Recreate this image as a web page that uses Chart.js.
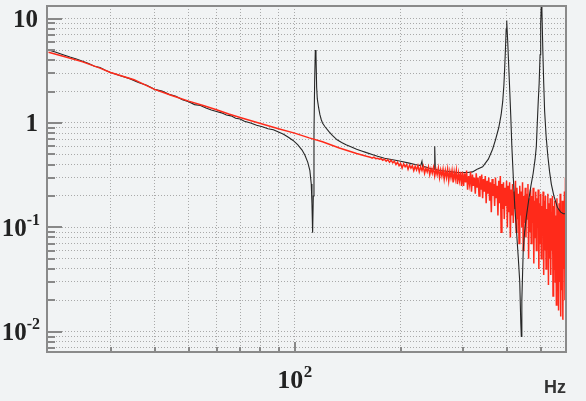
<!DOCTYPE html>
<html>
<head>
<meta charset="utf-8">
<script src="https://cdn.jsdelivr.net/npm/chart.js@4/dist/chart.umd.min.js"></script>
<style>
  html, body { margin: 0; padding: 0; background: #f1f3f4; }
  canvas { display: block; }
</style>
</head>
<body>
<canvas id="c" width="586" height="401"></canvas>
<script>
// ---- Data (log-log spectrum, Hz) ----
// Red series (model / noisy measurement)
const redFreq = [20,22,25,28,30,35,40,45,50,55,60,65,70,80,90,100,110,120,134,150,
  160,162,164,166,168,170,172,174,176,178,180,182,184,186,188,190,192,194,196,198,
  200,202,204,206,208,210,212,214,216,218,220,222,224,226,228,230,232,234,236,238,
  240,242,244,246,248,250,252,254,256,258,260,262,264,266,268,270,272,274,276,278,
  280,282,284,286,288,290,292,294,296,298,
  300,302,304,306,308,310,312,314,316,318,320,322,324,326,328,330,332,334,336,338,340,342,344,346,348,350,
  352,354,356,358,360,362,364,366,368,370,372,374,376,378,380,382,384,386,388,390,392,394,396,398,400,
  402,404,406,408,410,412,414,416,418,420,422,424,426,428,430,432,434,436,438,440,442,444,446,448,450,
  452,454,456,458,460,462,464,466,468,470,472,474,476,478,480,482,484,486,488,490,492,494,496,498,500,
  502,504,506,508,510,512,514,516,518,520,522,524,526,528,530,532,534,536,538,540,542,544,546,548,550,
  552,554,556,558,560,562,564,566,568,570,572,574,576,578,580,582,584,586,588,590];
const redVal = [4.75,4.35,3.85,3.35,3.05,2.6,2.1,1.82,1.62,1.47,1.34,1.22,1.13,0.99,0.88,0.80,0.72,0.66,0.575,0.51,
  0.48,0.475,0.47,0.46,0.47,0.455,0.46,0.45,0.455,0.44,0.45,0.43,0.445,0.42,0.44,0.415,0.43,0.40,0.42,0.39,
  0.41,0.37,0.405,0.38,0.40,0.36,0.395,0.37,0.39,0.35,0.385,0.355,0.39,0.34,0.38,0.35,0.385,0.33,0.37,0.34,
  0.38,0.32,0.365,0.33,0.375,0.31,0.36,0.32,0.37,0.30,0.355,0.31,0.36,0.29,0.35,0.30,0.36,0.28,0.345,0.30,
  0.35,0.27,0.34,0.29,0.35,0.26,0.33,0.28,0.34,0.25,
  0.34,0.25,0.33,0.27,0.35,0.23,0.31,0.26,0.34,0.22,0.32,0.25,0.30,0.21,0.33,0.24,0.30,0.20,0.31,0.23,0.32,0.19,0.29,0.22,0.31,0.17,
  0.28,0.21,0.30,0.18,0.27,0.14,0.29,0.20,0.26,0.16,0.30,0.19,0.25,0.13,0.28,0.17,0.31,0.09,0.26,0.15,0.27,0.12,0.24,0.16,0.28,
  0.10,0.25,0.14,0.27,0.08,0.23,0.13,0.26,0.11,0.22,0.15,0.28,0.09,0.24,0.12,0.21,0.07,0.25,0.13,0.22,0.10,0.27,0.06,0.20,0.11,
  0.24,0.08,0.21,0.12,0.26,0.05,0.19,0.09,0.23,0.07,0.20,0.11,0.24,0.045,0.18,0.08,0.22,0.06,0.19,0.10,0.23,0.04,0.17,0.07,0.21,
  0.05,0.16,0.09,0.22,0.035,0.18,0.06,0.20,0.04,0.15,0.08,0.21,0.028,0.17,0.05,0.19,0.035,0.14,0.06,0.20,0.022,0.16,0.04,0.18,0.03,
  0.13,0.018,0.19,0.045,0.15,0.016,0.17,0.03,0.21,0.014,0.12,0.025,0.18,0.013,0.16,0.04,0.22,0.02,0.30,0.03];

// Black series (measured response), low-frequency part (drawn under red)
const blackLowFreq = [20,21,22,23,24,25,26,27,28,29,30,32,34,36,38,40,42,44,46,48,50,52,54,56,58,60,62,64,66,68,70,72,75,78,81,84,87,90,93,96,99,
  102,105,107,109,110.5,111.5,112,112.5,113,113.5,114,114.5,115,115.5,116,117,118,119,120,122,125,128,132,136,140,145,150,155,160,166,172,180,190,
  200,210,220,228,230,231,235,240,245,249,250,251,255,260,270,280,290,300,310,320,330];
const blackLowVal = [5.0,4.75,4.5,4.28,4.1,3.9,3.72,3.5,3.4,3.2,3.05,2.83,2.66,2.44,2.3,2.1,2.02,1.88,1.8,1.67,1.6,1.5,1.47,1.39,1.33,1.29,1.25,1.19,1.17,1.11,1.09,1.04,1.0,0.95,0.92,0.88,0.86,0.82,0.78,0.73,0.68,
  0.62,0.55,0.49,0.42,0.35,0.26,0.17,0.089,0.2,0.8,2.5,5.0,4.5,2.2,1.7,1.4,1.2,1.08,1.0,0.92,0.83,0.76,0.69,0.65,0.62,0.59,0.56,0.54,0.52,0.50,0.48,0.46,0.445,
  0.43,0.415,0.40,0.39,0.43,0.38,0.38,0.37,0.365,0.36,0.6,0.36,0.355,0.35,0.345,0.34,0.335,0.335,0.335,0.34,0.36];

// Black series, high-frequency part (drawn over red)
const blackHighFreq = [330,342,355,365,372,380,386,390,393,395,397,399,400,401,403,405,408,411,414,418,422,427,432,436,439,440.5,442,446,450,455,462,469,476,482,486,489,492,495,498,500,502,504,507,510,513,518,524,530,536,545,558,570,580,590];
const blackHighVal = [0.36,0.38,0.45,0.56,0.69,0.9,1.2,1.6,2.3,3.3,5.0,8.0,9.6,9.2,6.0,4.0,2.2,1.2,0.6,0.3,0.16,0.09,0.05,0.03,0.012,0.009,0.02,0.06,0.09,0.125,0.18,0.25,0.33,0.45,0.6,1.0,1.6,2.4,4.5,9.0,14,12,5.0,2.4,1.3,0.75,0.48,0.34,0.26,0.2,0.155,0.14,0.135,0.135];

// Axis grid values and labels
const xGridValues = [30,40,50,60,70,80,90,100,200,300,400,500];
const yGridValues = [0.007,0.008,0.009,0.01,0.02,0.03,0.04,0.05,0.06,0.07,0.08,0.09,0.1,0.2,0.3,0.4,0.5,0.6,0.7,0.8,0.9,1,2,3,4,5,6,7,8,9,10];
const yLabelValues = [10, 1, 0.1, 0.01];
const yLabelBase = ['10', '1', '10', '10'];
const yLabelExp = ['', '', '-1', '-2'];
const xLabelValues = [100];
const xLabelBase = ['10'];
const xLabelExp = ['2'];
const xUnit = 'Hz';

const toPts = (xs, ys) => xs.map((x, i) => ({x: x, y: ys[i]}));
const isDecade = v => Math.abs(Math.log10(v) - Math.round(Math.log10(v))) < 1e-9;

const BG = '#f1f3f4';
const SERIF = '"Liberation Serif", "Times New Roman", serif';
const framePlugin = {
  id: 'frame',
  beforeDraw(chart) {
    const ctx = chart.ctx;
    ctx.save();
    ctx.fillStyle = BG;
    ctx.fillRect(0, 0, chart.width, chart.height);
    ctx.restore();
  },
  afterDraw(chart) {
    const ctx = chart.ctx;
    const a = chart.chartArea;
    const xs = chart.scales.x, ys = chart.scales.y;
    ctx.save();
    // inward tick marks
    ctx.strokeStyle = '#888';
    ctx.lineWidth = 2;
    ctx.beginPath();
    yGridValues.forEach(v => {
      const py = Math.round(ys.getPixelForValue(v));
      const len = isDecade(v) ? 15 : 8;
      ctx.moveTo(a.left, py); ctx.lineTo(a.left + len, py);
    });
    xGridValues.forEach(v => {
      const px = Math.round(xs.getPixelForValue(v));
      const len = isDecade(v) ? 10 : 5;
      ctx.moveTo(px, a.bottom); ctx.lineTo(px, a.bottom - len);
    });
    ctx.stroke();
    // frame
    ctx.strokeStyle = '#8a8a8a';
    ctx.lineWidth = 2;
    ctx.strokeRect(a.left, a.top, a.right - a.left, a.bottom - a.top);

    // y labels
    ctx.fillStyle = '#222';
    ctx.textBaseline = 'alphabetic';
    ctx.textAlign = 'left';
    const baseFont = 'bold 25px ' + SERIF;
    const expFont = 'bold 16px ' + SERIF;
    yLabelValues.forEach((v, i) => {
      const py = ys.getPixelForValue(v);
      ctx.font = baseFont;
      const wb = ctx.measureText(yLabelBase[i]).width;
      ctx.font = expFont;
      const we = yLabelExp[i] ? ctx.measureText(yLabelExp[i]).width : 0;
      const right = yLabelExp[i] ? 40 : 38;
      const x0 = right - wb - we;
      ctx.font = baseFont;
      ctx.fillText(yLabelBase[i], x0, py + 8.5);
      if (yLabelExp[i]) {
        ctx.font = expFont;
        ctx.fillText(yLabelExp[i], x0 + wb, py - 2.5);
      }
    });
    // x labels
    xLabelValues.forEach((v, i) => {
      const px = xs.getPixelForValue(v);
      ctx.font = 'bold 26px ' + SERIF;
      const wb = ctx.measureText(xLabelBase[i]).width;
      ctx.font = 'bold 17px ' + SERIF;
      const we = ctx.measureText(xLabelExp[i]).width;
      const x0 = px - (wb + we) / 2;
      ctx.font = 'bold 26px ' + SERIF;
      ctx.fillText(xLabelBase[i], x0, 388);
      ctx.font = 'bold 17px ' + SERIF;
      ctx.fillText(xLabelExp[i], x0 + wb + 0.5, 377);
    });
    // unit
    ctx.font = 'bold 18px "Liberation Sans", Arial, sans-serif';
    ctx.textAlign = 'right';
    ctx.fillStyle = '#333';
    ctx.fillText(xUnit, a.right, 393);
    ctx.restore();
  }
};

new Chart(document.getElementById('c'), {
  type: 'line',
  data: {
    datasets: [
      { label: 'measured (high f)', data: toPts(blackHighFreq, blackHighVal), borderColor: '#262626', borderWidth: 1.1 },
      { label: 'model', data: toPts(redFreq, redVal), borderColor: '#ff2a1a', borderWidth: 1.5 },
      { label: 'measured', data: toPts(blackLowFreq, blackLowVal), borderColor: '#262626', borderWidth: 1.1 }
    ]
  },
  options: {
    responsive: false,
    animation: false,
    devicePixelRatio: 1,
    layout: { padding: { left: 47, top: 6, right: 20, bottom: 49 } },
    elements: { point: { radius: 0 }, line: { tension: 0 } },
    plugins: { legend: { display: false }, tooltip: { enabled: false } },
    scales: {
      x: {
        type: 'logarithmic', min: 19.8, max: 590, bounds: 'data',
        ticks: { display: false },
        grid: { color: '#a9a9a9', lineWidth: 1, drawTicks: false },
        border: { display: false, dash: [1, 2] },
        afterBuildTicks: s => { s.ticks = xGridValues.map(v => ({ value: v })); }
      },
      y: {
        type: 'logarithmic', min: 0.0064, max: 13.2, bounds: 'data',
        ticks: { display: false },
        grid: { color: '#a9a9a9', lineWidth: 1, drawTicks: false },
        border: { display: false, dash: [1, 2] },
        afterBuildTicks: s => { s.ticks = yGridValues.map(v => ({ value: v })); }
      }
    }
  },
  plugins: [framePlugin]
});
</script>
</body>
</html>
